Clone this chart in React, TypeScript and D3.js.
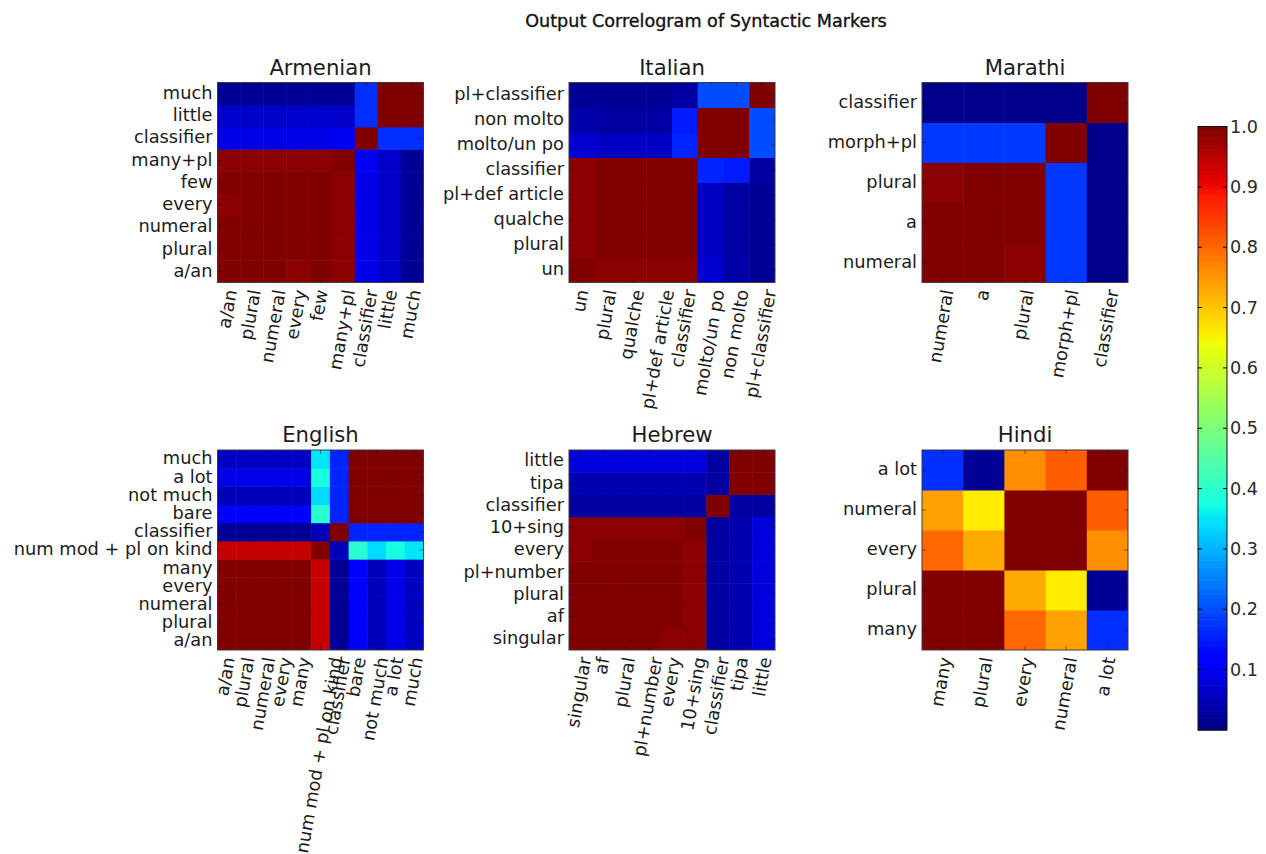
import React, { useEffect, useRef } from "react";
import * as d3 from "d3";

// ---------- data ----------
const figureTitle = "Output Correlogram of Syntactic Markers";

const armenianLabels = ["a/an", "plural", "numeral", "every", "few", "many+pl", "classifier", "little", "much"];
const armenianValues = [
  [1.0, 1.0, 1.0, 0.99, 1.0, 0.99, 0.09, 0.065, 0.02],
  [1.0, 1.0, 1.0, 1.0, 1.0, 0.99, 0.09, 0.065, 0.02],
  [1.0, 1.0, 1.0, 1.0, 1.0, 0.99, 0.09, 0.065, 0.02],
  [0.99, 1.0, 1.0, 1.0, 1.0, 0.99, 0.09, 0.065, 0.02],
  [1.0, 1.0, 1.0, 1.0, 1.0, 0.99, 0.09, 0.065, 0.02],
  [0.99, 0.99, 0.99, 0.99, 0.99, 1.0, 0.10, 0.065, 0.02],
  [0.09, 0.09, 0.09, 0.09, 0.09, 0.10, 1.0, 0.17, 0.17],
  [0.065, 0.065, 0.065, 0.065, 0.065, 0.065, 0.17, 1.0, 1.0],
  [0.02, 0.02, 0.02, 0.02, 0.02, 0.02, 0.17, 1.0, 1.0],
];

const italianLabels = ["un", "plural", "qualche", "pl+def article", "classifier", "molto/un po", "non molto", "pl+classifier"];
const italianValues = [
  [1.0, 0.99, 0.99, 0.99, 0.99, 0.07, 0.035, 0.02],
  [0.99, 1.0, 1.0, 1.0, 1.0, 0.06, 0.03, 0.02],
  [0.99, 1.0, 1.0, 1.0, 1.0, 0.06, 0.03, 0.02],
  [0.99, 1.0, 1.0, 1.0, 1.0, 0.06, 0.03, 0.02],
  [0.99, 1.0, 1.0, 1.0, 1.0, 0.16, 0.15, 0.03],
  [0.07, 0.06, 0.06, 0.06, 0.16, 1.0, 1.0, 0.2],
  [0.035, 0.03, 0.03, 0.03, 0.15, 1.0, 1.0, 0.2],
  [0.02, 0.02, 0.02, 0.02, 0.03, 0.2, 0.2, 1.0],
];

const marathiLabels = ["numeral", "a", "plural", "morph+pl", "classifier"];
const marathiValues = [
  [1.0, 1.0, 0.99, 0.18, 0.01],
  [1.0, 1.0, 1.0, 0.18, 0.01],
  [0.99, 1.0, 1.0, 0.18, 0.01],
  [0.18, 0.18, 0.18, 1.0, 0.01],
  [0.01, 0.01, 0.01, 0.01, 1.0],
];

const englishLabels = ["a/an", "plural", "numeral", "every", "many", "num mod + pl on kind", "classifier", "bare", "not much", "a lot", "much"];
const englishValues = [
  [1.0, 1.0, 1.0, 1.0, 1.0, 0.94, 0.02, 0.12, 0.05, 0.09, 0.06],
  [1.0, 1.0, 1.0, 1.0, 1.0, 0.94, 0.02, 0.12, 0.05, 0.09, 0.06],
  [1.0, 1.0, 1.0, 1.0, 1.0, 0.94, 0.02, 0.12, 0.05, 0.09, 0.06],
  [1.0, 1.0, 1.0, 1.0, 1.0, 0.94, 0.02, 0.12, 0.05, 0.09, 0.06],
  [1.0, 1.0, 1.0, 1.0, 1.0, 0.94, 0.02, 0.12, 0.05, 0.09, 0.06],
  [0.94, 0.94, 0.94, 0.94, 0.94, 1.0, 0.05, 0.4, 0.34, 0.38, 0.35],
  [0.02, 0.02, 0.02, 0.02, 0.02, 0.05, 1.0, 0.16, 0.16, 0.16, 0.16],
  [0.12, 0.12, 0.12, 0.12, 0.12, 0.4, 0.16, 1.0, 1.0, 1.0, 1.0],
  [0.05, 0.05, 0.05, 0.05, 0.05, 0.34, 0.16, 1.0, 1.0, 1.0, 1.0],
  [0.09, 0.09, 0.09, 0.09, 0.09, 0.38, 0.16, 1.0, 1.0, 1.0, 1.0],
  [0.06, 0.06, 0.06, 0.06, 0.06, 0.35, 0.16, 1.0, 1.0, 1.0, 1.0],
];

const hebrewLabels = ["singular", "af", "plural", "pl+number", "every", "10+sing", "classifier", "tipa", "little"];
const hebrewValues = [
  [1.0, 1.0, 1.0, 1.0, 0.99, 0.99, 0.03, 0.04, 0.08],
  [1.0, 1.0, 1.0, 1.0, 1.0, 0.99, 0.03, 0.04, 0.08],
  [1.0, 1.0, 1.0, 1.0, 1.0, 0.99, 0.03, 0.04, 0.08],
  [1.0, 1.0, 1.0, 1.0, 1.0, 0.99, 0.03, 0.04, 0.08],
  [0.99, 1.0, 1.0, 1.0, 1.0, 0.99, 0.03, 0.04, 0.08],
  [0.99, 0.99, 0.99, 0.99, 0.99, 1.0, 0.03, 0.04, 0.08],
  [0.03, 0.03, 0.03, 0.03, 0.03, 0.03, 1.0, 0.03, 0.03],
  [0.04, 0.04, 0.04, 0.04, 0.04, 0.04, 0.03, 1.0, 1.0],
  [0.08, 0.08, 0.08, 0.08, 0.08, 0.08, 0.03, 1.0, 1.0],
];

const hindiLabels = ["many", "plural", "every", "numeral", "a lot"];
const hindiValues = [
  [1.0, 1.0, 0.8, 0.74, 0.17],
  [1.0, 1.0, 0.73, 0.66, 0.02],
  [0.8, 0.73, 1.0, 1.0, 0.76],
  [0.74, 0.66, 1.0, 1.0, 0.81],
  [0.17, 0.02, 0.76, 0.81, 1.0],
];

const colorbarTicks = [0.1, 0.2, 0.3, 0.4, 0.5, 0.6, 0.7, 0.8, 0.9, 1.0];

const panels = [
  { name: "Armenian", labels: armenianLabels, values: armenianValues, col: 0, row: 0 },
  { name: "Italian", labels: italianLabels, values: italianValues, col: 1, row: 0 },
  { name: "Marathi", labels: marathiLabels, values: marathiValues, col: 2, row: 0 },
  { name: "English", labels: englishLabels, values: englishValues, col: 0, row: 1 },
  { name: "Hebrew", labels: hebrewLabels, values: hebrewValues, col: 1, row: 1 },
  { name: "Hindi", labels: hindiLabels, values: hindiValues, col: 2, row: 1 },
];

// ---------- layout ----------
const WIDTH = 1266;
const HEIGHT = 854;
const panelLefts = [217.5, 569, 922];
const panelTops = [82.5, 450];
const PW = 206;
const PH = 200;
const FONT = "'DejaVu Sans', sans-serif";
const TICK_FS = 17.8;
const TITLE_FS = 21.2;
const SUP_FS = 17.6;
const TEXT_COLOR = "#1c1c1c";
const CB = { x: 1198, y: 126.5, w: 29, h: 603.5 };

// matplotlib "jet" colormap via d3 linear scales
const jetR = d3.scaleLinear().domain([0, 0.35, 0.66, 0.89, 1]).range([0, 0, 1, 1, 0.5]).clamp(true);
const jetG = d3.scaleLinear().domain([0, 0.125, 0.375, 0.64, 0.91, 1]).range([0, 0, 1, 1, 0, 0]).clamp(true);
const jetB = d3.scaleLinear().domain([0, 0.11, 0.34, 0.65, 1]).range([0.5, 1, 1, 0, 0]).clamp(true);
const jet = (t: number) =>
  d3.rgb(Math.round(jetR(t) * 255), Math.round(jetG(t) * 255), Math.round(jetB(t) * 255)).toString();
const color = d3.scaleSequential(jet).domain([0, 1]);

export default function App() {
  const ref = useRef<SVGSVGElement>(null);

  useEffect(() => {
    if (!ref.current) return;
    const svg = d3.select(ref.current);
    svg.selectAll("*").remove();

    svg.append("rect").attr("width", WIDTH).attr("height", HEIGHT).attr("fill", "#fff");

    svg
      .append("text")
      .attr("x", 706)
      .attr("y", 27)
      .attr("text-anchor", "middle")
      .attr("font-family", FONT)
      .attr("font-size", SUP_FS)
      .attr("fill", "#111")
      .attr("stroke", "#111")
      .attr("stroke-width", 0.35)
      .text(figureTitle);

    const ang = (80 * Math.PI) / 180;
    const c = Math.cos(ang);
    const s = Math.sin(ang);
    const asc = 0.76 * TICK_FS;
    const desc = 0.24 * TICK_FS;

    panels.forEach((p) => {
      const left = panelLefts[p.col];
      const top = panelTops[p.row];
      const n = p.labels.length;
      const idx = d3.range(n);
      const x = d3.scaleBand<number>().domain(idx).range([left, left + PW]);
      const y = d3.scaleBand<number>().domain(idx).range([top + PH, top]);
      const g = svg.append("g");

      const cells: { i: number; j: number; v: number }[] = [];
      p.values.forEach((row, i) => row.forEach((v, j) => cells.push({ i, j, v })));

      g.selectAll("rect.cell")
        .data(cells)
        .enter()
        .append("rect")
        .attr("class", "cell")
        .attr("x", (d) => x(d.j)!)
        .attr("y", (d) => y(d.i)!)
        .attr("width", (d) => x.bandwidth() + (d.j < n - 1 ? 0.5 : 0))
        .attr("height", (d) => y.bandwidth() + (d.i > 0 ? 0.5 : 0))
        .attr("fill", (d) => color(d.v));

      // frame
      g.append("rect")
        .attr("x", left)
        .attr("y", top)
        .attr("width", PW)
        .attr("height", PH)
        .attr("fill", "none")
        .attr("stroke", "#3a3a4a")
        .attr("stroke-width", 1);

      // ticks (inward, all four sides)
      const tickStyle = (l: d3.Selection<SVGLineElement, unknown, null, undefined>) =>
        l.attr("stroke", "#000").attr("stroke-opacity", 0.55).attr("stroke-width", 0.8);
      idx.forEach((k) => {
        const cx = x(k)! + x.bandwidth() / 2;
        const cy = y(k)! + y.bandwidth() / 2;
        tickStyle(g.append("line").attr("x1", cx).attr("x2", cx).attr("y1", top + PH).attr("y2", top + PH - 4) as any);
        tickStyle(g.append("line").attr("x1", cx).attr("x2", cx).attr("y1", top).attr("y2", top + 4) as any);
        tickStyle(g.append("line").attr("x1", left).attr("x2", left + 4).attr("y1", cy).attr("y2", cy) as any);
        tickStyle(g.append("line").attr("x1", left + PW).attr("x2", left + PW - 4).attr("y1", cy).attr("y2", cy) as any);
      });

      // y labels
      g.selectAll("text.ylab")
        .data(p.labels)
        .enter()
        .append("text")
        .attr("class", "ylab")
        .attr("x", left - 5)
        .attr("y", (_d, i) => y(i)! + y.bandwidth() / 2)
        .attr("dy", "0.3em")
        .attr("text-anchor", "end")
        .attr("font-family", FONT)
        .attr("font-size", TICK_FS)
        .attr("fill", TEXT_COLOR)
        .text((d) => d);

      // x labels (rotated 80 deg, bbox centred on tick, top aligned)
      const y0 = top + PH + 6;
      p.labels.forEach((lab, i) => {
        const t = g
          .append("text")
          .attr("text-anchor", "end")
          .attr("font-family", FONT)
          .attr("font-size", TICK_FS)
          .attr("fill", TEXT_COLOR)
          .text(lab);
        const L = (t.node() as SVGTextElement).getComputedTextLength();
        const minX = -c * L - s * asc;
        const maxX = s * desc;
        const centerOff = (minX + maxX) / 2;
        const tickX = x(i)! + x.bandwidth() / 2;
        const px = tickX - centerOff;
        const py = y0 + c * asc;
        t.attr("transform", `translate(${px},${py}) rotate(-80)`);
      });

      // title
      g.append("text")
        .attr("x", left + PW / 2)
        .attr("y", top - 8)
        .attr("text-anchor", "middle")
        .attr("font-family", FONT)
        .attr("font-size", TITLE_FS)
        .attr("fill", TEXT_COLOR)
        .text(p.name);
    });

    // colorbar
    const cbScale = d3.scaleLinear().domain([0, 1]).range([CB.y + CB.h, CB.y]);
    const steps = d3.range(0, 1, 1 / 256);
    const cbg = svg.append("g");
    cbg
      .selectAll("rect.cb")
      .data(steps)
      .enter()
      .append("rect")
      .attr("x", CB.x)
      .attr("width", CB.w)
      .attr("y", (d) => cbScale(d + 1 / 256))
      .attr("height", (d) => cbScale(d) - cbScale(d + 1 / 256) + 0.6)
      .attr("fill", (d) => color(d + 0.5 / 256));
    cbg
      .append("rect")
      .attr("x", CB.x)
      .attr("y", CB.y)
      .attr("width", CB.w)
      .attr("height", CB.h)
      .attr("fill", "none")
      .attr("stroke", "#111")
      .attr("stroke-width", 1);
    colorbarTicks.forEach((v) => {
      const ty = cbScale(v);
      cbg.append("line").attr("x1", CB.x + CB.w - 4).attr("x2", CB.x + CB.w).attr("y1", ty).attr("y2", ty).attr("stroke", "#000");
      cbg.append("line").attr("x1", CB.x).attr("x2", CB.x + 4).attr("y1", ty).attr("y2", ty).attr("stroke", "#000");
      cbg
        .append("text")
        .attr("x", CB.x + CB.w + 3)
        .attr("y", ty)
        .attr("dy", "0.35em")
        .attr("font-family", FONT)
        .attr("font-size", 17.6)
        .attr("fill", "#2a2a2a")
        .text(d3.format(".1f")(v));
    });
  }, []);

  return (
    <svg
      ref={ref}
      width={WIDTH}
      height={HEIGHT}
      style={{ position: "absolute", left: 0, top: 0, background: "#fff" }}
    />
  );
}
